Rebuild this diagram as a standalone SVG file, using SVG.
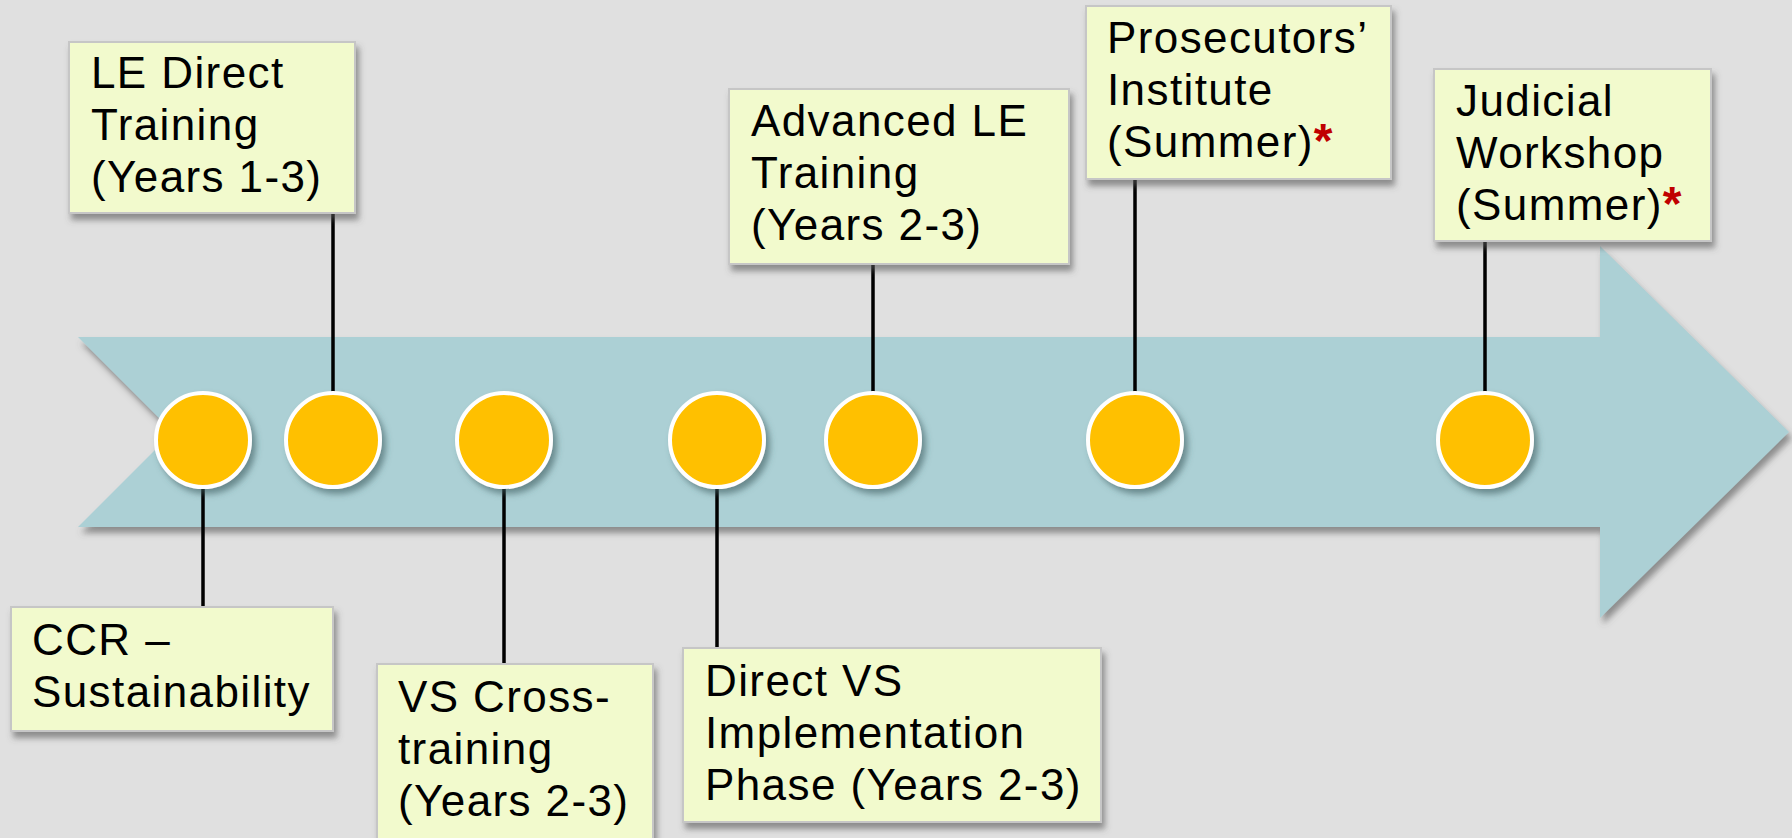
<svg xmlns="http://www.w3.org/2000/svg" width="1792" height="838" viewBox="0 0 1792 838">
<defs>
<filter id="sh" x="-10%" y="-10%" width="130%" height="140%">
<feDropShadow dx="3" dy="6" stdDeviation="3" flood-color="#555" flood-opacity="0.6"/>
</filter>
<filter id="csh" x="-30%" y="-30%" width="170%" height="170%">
<feDropShadow dx="4" dy="5" stdDeviation="3" flood-color="#3d5a5e" flood-opacity="0.6"/>
</filter>
<style>
.box{fill:#f2facd;stroke:#c6c6c6;stroke-width:2;filter:url(#sh)}
.t{font-family:"Liberation Sans",Arial,sans-serif;font-size:44px;letter-spacing:1.4px;fill:#000}
.dot{fill:#ffc000;stroke:#fff;stroke-width:4;filter:url(#csh)}
.ln{stroke:#000;stroke-width:3.5;fill:none}
.ast{fill:#c00000;font-weight:bold;font-size:48px}
</style>
</defs>
<rect width="1792" height="838" fill="#e0e0e0"/>
<polygon id="arrow" points="78,337 1600,337 1600,246 1789,432 1600,618 1600,527 78,527 173,432" fill="#acd0d5" filter="url(#sh)"/>
<g id="connectors">
<line class="ln" x1="333" y1="213" x2="333" y2="395"/>
<line class="ln" x1="203" y1="485" x2="203" y2="608"/>
<line class="ln" x1="504" y1="485" x2="504" y2="664"/>
<line class="ln" x1="717" y1="485" x2="717" y2="648"/>
<line class="ln" x1="873" y1="264" x2="873" y2="395"/>
<line class="ln" x1="1135" y1="179" x2="1135" y2="395"/>
<line class="ln" x1="1485" y1="241" x2="1485" y2="395"/>
</g>
<g id="dots">
<circle class="dot" cx="203" cy="440" r="47"/>
<circle class="dot" cx="333" cy="440" r="47"/>
<circle class="dot" cx="504" cy="440" r="47"/>
<circle class="dot" cx="717" cy="440" r="47"/>
<circle class="dot" cx="873" cy="440" r="47"/>
<circle class="dot" cx="1135" cy="440" r="47"/>
<circle class="dot" cx="1485" cy="440" r="47"/>
</g>
<g id="n-le-direct">
<rect class="box" x="69" y="42" width="286" height="171"/>
<text class="t" x="91" y="88">LE Direct</text>
<text class="t" x="91" y="140">Training</text>
<text class="t" x="91" y="192">(Years 1-3)</text>
</g>
<g id="n-ccr">
<rect class="box" x="11" y="607" width="322" height="124"/>
<text class="t" x="32" y="655">CCR –</text>
<text class="t" x="32" y="707">Sustainability</text>
</g>
<g id="n-vs-cross">
<rect class="box" x="377" y="664" width="276" height="190"/>
<text class="t" x="398" y="712">VS Cross-</text>
<text class="t" x="398" y="764">training</text>
<text class="t" x="398" y="816">(Years 2-3)</text>
</g>
<g id="n-direct-vs">
<rect class="box" x="683" y="648" width="418" height="174"/>
<text class="t" x="705" y="696">Direct VS</text>
<text class="t" x="705" y="748">Implementation</text>
<text class="t" x="705" y="800">Phase (Years 2-3)</text>
</g>
<g id="n-advanced-le">
<rect class="box" x="729" y="89" width="340" height="175"/>
<text class="t" x="751" y="136">Advanced LE</text>
<text class="t" x="751" y="188">Training</text>
<text class="t" x="751" y="240">(Years 2-3)</text>
</g>
<g id="n-prosecutors">
<rect class="box" x="1086" y="6" width="305" height="173"/>
<text class="t" x="1107" y="53">Prosecutors’</text>
<text class="t" x="1107" y="105">Institute</text>
<text class="t" x="1107" y="157">(Summer)<tspan class="ast">*</tspan></text>
</g>
<g id="n-judicial">
<rect class="box" x="1434" y="69" width="277" height="172"/>
<text class="t" x="1456" y="116">Judicial</text>
<text class="t" x="1456" y="168">Workshop</text>
<text class="t" x="1456" y="220">(Summer)<tspan class="ast">*</tspan></text>
</g>
</svg>
